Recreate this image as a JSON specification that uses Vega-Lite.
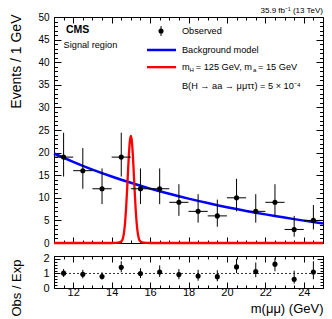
{
  "$schema": "https://vega.github.io/schema/vega-lite/v6.json",
  "background": "white",
  "padding": {"left": 8, "top": 6, "right": 5, "bottom": 0},
  "config": {
    "font": "Liberation Sans",
    "view": {"stroke": "black", "strokeWidth": 1},
    "axis": {"domain": false, "grid": false, "labelColor": "black", "titleColor": "black", "tickColor": "black", "titleFontWeight": "normal", "labelOverlap": false, "labelFlush": false, "labelBound": false, "tickWidth": 1},
    "concat": {"spacing": 0}
  },
  "datasets": {
    "obs": [
      {"x": 11.5, "xlo": 11, "xhi": 12, "y": 19, "lo": 14.7, "hi": 24.4, "r": 1.02, "rlo": 0.76, "rhi": 1.3},
      {"x": 12.5, "xlo": 12, "xhi": 13, "y": 16, "lo": 12.0, "hi": 21.0, "r": 0.94, "rlo": 0.66, "rhi": 1.25},
      {"x": 13.5, "xlo": 13, "xhi": 14, "y": 12, "lo": 8.6, "hi": 16.5, "r": 0.79, "rlo": 0.57, "rhi": 1.08},
      {"x": 14.5, "xlo": 14, "xhi": 15, "y": 19, "lo": 14.7, "hi": 24.4, "r": 1.42, "rlo": 1.08, "rhi": 1.84},
      {"x": 15.5, "xlo": 15, "xhi": 16, "y": 12, "lo": 8.6, "hi": 16.5, "r": 0.99, "rlo": 0.68, "rhi": 1.36},
      {"x": 16.5, "xlo": 16, "xhi": 17, "y": 12, "lo": 8.6, "hi": 16.5, "r": 1.1, "rlo": 0.76, "rhi": 1.55},
      {"x": 17.5, "xlo": 17, "xhi": 18, "y": 9, "lo": 6.0, "hi": 13.0, "r": 0.92, "rlo": 0.6, "rhi": 1.3},
      {"x": 18.5, "xlo": 18, "xhi": 19, "y": 7, "lo": 4.5, "hi": 10.8, "r": 0.83, "rlo": 0.5, "rhi": 1.25},
      {"x": 19.5, "xlo": 19, "xhi": 20, "y": 6, "lo": 3.6, "hi": 9.6, "r": 0.78, "rlo": 0.46, "rhi": 1.22},
      {"x": 20.5, "xlo": 20, "xhi": 21, "y": 10, "lo": 7.0, "hi": 14.2, "r": 1.45, "rlo": 1.03, "rhi": 2.0},
      {"x": 21.5, "xlo": 21, "xhi": 22, "y": 7, "lo": 4.5, "hi": 10.8, "r": 1.13, "rlo": 0.74, "rhi": 1.75},
      {"x": 22.5, "xlo": 22, "xhi": 23, "y": 9, "lo": 6.0, "hi": 13.0, "r": 1.64, "rlo": 1.15, "rhi": 2.05},
      {"x": 23.5, "xlo": 23, "xhi": 24, "y": 3, "lo": 1.4, "hi": 6.0, "r": 0.6, "rlo": 0.3, "rhi": 1.19},
      {"x": 24.5, "xlo": 24, "xhi": 25, "y": 5, "lo": 3.0, "hi": 8.4, "r": 1.1, "rlo": 0.6, "rhi": 1.84}
    ],
    "bkg": [
      {"x": 11, "y": 19.8}, {"x": 11.5, "y": 18.86}, {"x": 12, "y": 17.95}, {"x": 12.5, "y": 17.07},
      {"x": 13, "y": 16.25}, {"x": 13.5, "y": 15.47}, {"x": 14, "y": 14.72}, {"x": 14.5, "y": 14.0},
      {"x": 15, "y": 13.32}, {"x": 15.5, "y": 12.66}, {"x": 16, "y": 12.04}, {"x": 16.5, "y": 11.45},
      {"x": 17, "y": 10.88}, {"x": 17.5, "y": 10.34}, {"x": 18, "y": 9.82}, {"x": 18.5, "y": 9.32},
      {"x": 19, "y": 8.83}, {"x": 19.5, "y": 8.37}, {"x": 20, "y": 7.93}, {"x": 20.5, "y": 7.5},
      {"x": 21, "y": 7.09}, {"x": 21.5, "y": 6.7}, {"x": 22, "y": 6.33}, {"x": 22.5, "y": 5.97},
      {"x": 23, "y": 5.62}, {"x": 23.5, "y": 5.28}, {"x": 24, "y": 4.95}, {"x": 24.5, "y": 4.63},
      {"x": 25, "y": 4.32}
    ],
    "sig": [
      {"x": 11, "y": 0}, {"x": 14, "y": 0}, {"x": 14.2, "y": 0.02}, {"x": 14.4, "y": 0.12},
      {"x": 14.5, "y": 0.35}, {"x": 14.55, "y": 0.6}, {"x": 14.6, "y": 1.26}, {"x": 14.65, "y": 2.5},
      {"x": 14.7, "y": 4.54}, {"x": 14.75, "y": 7.52}, {"x": 14.8, "y": 11.37}, {"x": 14.85, "y": 15.68},
      {"x": 14.9, "y": 19.73}, {"x": 14.95, "y": 22.64}, {"x": 15.0, "y": 23.7}, {"x": 15.05, "y": 22.64},
      {"x": 15.1, "y": 19.73}, {"x": 15.15, "y": 15.68}, {"x": 15.2, "y": 11.37}, {"x": 15.25, "y": 7.52},
      {"x": 15.3, "y": 4.54}, {"x": 15.35, "y": 2.5}, {"x": 15.4, "y": 1.26}, {"x": 15.45, "y": 0.6},
      {"x": 15.5, "y": 0.35}, {"x": 15.6, "y": 0.12}, {"x": 15.8, "y": 0.02}, {"x": 16, "y": 0},
      {"x": 25, "y": 0}
    ]
  },
  "vconcat": [
    {
      "width": 269,
      "height": 226,
      "resolve": {"axis": {"x": "independent", "y": "independent"}},
      "layer": [
        {
          "data": {"name": "bkg"},
          "mark": {"type": "line", "color": "#0000ff", "strokeWidth": 2.5},
          "encoding": {
            "x": {"field": "x", "type": "quantitative", "scale": {"domain": [11, 25], "nice": false, "zero": false},
              "axis": {"orient": "bottom", "values": [11, 11.5, 12, 12.5, 13, 13.5, 14, 14.5, 15, 15.5, 16, 16.5, 17, 17.5, 18, 18.5, 19, 19.5, 20, 20.5, 21, 21.5, 22, 22.5, 23, 23.5, 24, 24.5, 25],
                "labels": false, "title": null,
                "tickSize": {"condition": {"test": "datum.value % 2 === 0", "value": -6}, "value": -3}}},
            "y": {"field": "y", "type": "quantitative", "scale": {"domain": [0, 50], "nice": false},
              "axis": {"orient": "left", "values": [0,1,2,3,4,5,6,7,8,9,10,11,12,13,14,15,16,17,18,19,20,21,22,23,24,25,26,27,28,29,30,31,32,33,34,35,36,37,38,39,40,41,42,43,44,45,46,47,48,49,50],
                "labelExpr": "datum.value % 5 === 0 ? format(datum.value, 'd') : ''",
                "tickSize": {"condition": {"test": "datum.value % 5 === 0", "value": -7}, "value": -3.5},
                "labelFontSize": 10, "labelPadding": 12,
                "title": "Events / 1 GeV", "titleFontSize": 14, "titleAngle": -90, "titleAlign": "right", "titleBaseline": "middle", "titleX": -38, "titleY": -3}}
          }
        },
        {
          "data": {"name": "sig"},
          "mark": {"type": "line", "color": "#ff0000", "strokeWidth": 2.3, "interpolate": "monotone"},
          "encoding": {
            "x": {"field": "x", "type": "quantitative",
              "axis": {"orient": "top", "values": [11, 11.5, 12, 12.5, 13, 13.5, 14, 14.5, 15, 15.5, 16, 16.5, 17, 17.5, 18, 18.5, 19, 19.5, 20, 20.5, 21, 21.5, 22, 22.5, 23, 23.5, 24, 24.5, 25],
                "labels": false, "title": null,
                "tickSize": {"condition": {"test": "datum.value % 2 === 0", "value": -6}, "value": -3}}},
            "y": {"field": "y", "type": "quantitative",
              "axis": {"orient": "right", "values": [0,1,2,3,4,5,6,7,8,9,10,11,12,13,14,15,16,17,18,19,20,21,22,23,24,25,26,27,28,29,30,31,32,33,34,35,36,37,38,39,40,41,42,43,44,45,46,47,48,49,50],
                "labels": false, "title": null,
                "tickSize": {"condition": {"test": "datum.value % 5 === 0", "value": -7}, "value": -3.5}}}
          }
        },
        {
          "data": {"name": "obs"},
          "mark": {"type": "rule", "color": "black", "strokeWidth": 1},
          "encoding": {
            "x": {"field": "xlo", "type": "quantitative", "axis": null},
            "x2": {"field": "xhi"},
            "y": {"field": "y", "type": "quantitative", "axis": null}
          }
        },
        {
          "data": {"name": "obs"},
          "mark": {"type": "rule", "color": "black", "strokeWidth": 1},
          "encoding": {
            "x": {"field": "x", "type": "quantitative", "axis": null},
            "y": {"field": "lo", "type": "quantitative", "axis": null},
            "y2": {"field": "hi"}
          }
        },
        {
          "data": {"name": "obs"},
          "mark": {"type": "circle", "color": "black", "opacity": 1, "size": 26},
          "encoding": {
            "x": {"field": "x", "type": "quantitative", "axis": null},
            "y": {"field": "y", "type": "quantitative", "axis": null}
          }
        },
        {
          "data": {"values": [{}]},
          "mark": {"type": "text", "text": "35.9 fb⁻¹ (13 TeV)", "fontSize": 8, "align": "right", "baseline": "middle", "color": "black"},
          "encoding": {"x": {"datum": 25, "axis": null}, "y": {"datum": 51.3, "axis": null}}
        },
        {
          "data": {"values": [{}]},
          "mark": {"type": "text", "text": "CMS", "fontSize": 10.5, "fontWeight": "bold", "align": "left", "baseline": "middle", "color": "black"},
          "encoding": {"x": {"datum": 11.62, "axis": null}, "y": {"datum": 47.2, "axis": null}}
        },
        {
          "data": {"values": [{}]},
          "mark": {"type": "text", "text": "Signal region", "fontSize": 9.2, "align": "left", "baseline": "middle", "color": "black"},
          "encoding": {"x": {"datum": 11.5, "axis": null}, "y": {"datum": 43.8, "axis": null}}
        },
        {
          "data": {"values": [{}]},
          "mark": {"type": "rule", "color": "black", "strokeWidth": 1},
          "encoding": {"x": {"datum": 16.57, "axis": null}, "y": {"datum": 45.8, "axis": null}, "y2": {"datum": 48.0}}
        },
        {
          "data": {"values": [{}]},
          "mark": {"type": "circle", "color": "black", "opacity": 1, "size": 26},
          "encoding": {"x": {"datum": 16.57, "axis": null}, "y": {"datum": 46.9, "axis": null}}
        },
        {
          "data": {"values": [{}]},
          "mark": {"type": "text", "text": "Observed", "fontSize": 9.2, "align": "left", "baseline": "middle", "color": "black"},
          "encoding": {"x": {"datum": 17.66, "axis": null}, "y": {"datum": 46.9, "axis": null}}
        },
        {
          "data": {"values": [{}]},
          "mark": {"type": "rule", "color": "#0000ff", "strokeWidth": 2.5},
          "encoding": {"x": {"datum": 15.84, "axis": null}, "x2": {"datum": 17.35}, "y": {"datum": 42.7, "axis": null}}
        },
        {
          "data": {"values": [{}]},
          "mark": {"type": "text", "text": "Background model", "fontSize": 9.2, "align": "left", "baseline": "middle", "color": "black"},
          "encoding": {"x": {"datum": 17.66, "axis": null}, "y": {"datum": 42.7, "axis": null}}
        },
        {
          "data": {"values": [{}]},
          "mark": {"type": "rule", "color": "#ff0000", "strokeWidth": 2.3},
          "encoding": {"x": {"datum": 15.84, "axis": null}, "x2": {"datum": 17.35}, "y": {"datum": 38.9, "axis": null}}
        },
        {
          "data": {"values": [{}]},
          "mark": {"type": "text", "text": "m", "fontSize": 9.2, "align": "left", "baseline": "middle", "color": "black"},
          "encoding": {"x": {"datum": 17.66, "axis": null}, "y": {"datum": 38.9, "axis": null}}
        },
        {
          "data": {"values": [{}]},
          "mark": {"type": "text", "text": "H", "fontSize": 6, "align": "left", "baseline": "middle", "color": "black"},
          "encoding": {"x": {"datum": 18.05, "axis": null}, "y": {"datum": 38.2, "axis": null}}
        },
        {
          "data": {"values": [{}]},
          "mark": {"type": "text", "text": "= 125 GeV, m", "fontSize": 9.2, "align": "left", "baseline": "middle", "color": "black"},
          "encoding": {"x": {"datum": 18.38, "axis": null}, "y": {"datum": 38.9, "axis": null}}
        },
        {
          "data": {"values": [{}]},
          "mark": {"type": "text", "text": "a", "fontSize": 6, "align": "left", "baseline": "middle", "color": "black"},
          "encoding": {"x": {"datum": 21.36, "axis": null}, "y": {"datum": 38.2, "axis": null}}
        },
        {
          "data": {"values": [{}]},
          "mark": {"type": "text", "text": "= 15 GeV", "fontSize": 9.2, "align": "left", "baseline": "middle", "color": "black"},
          "encoding": {"x": {"datum": 21.62, "axis": null}, "y": {"datum": 38.9, "axis": null}}
        },
        {
          "data": {"values": [{}]},
          "mark": {"type": "text", "text": "B(H → aa → μμττ) = 5 × 10⁻⁴", "fontSize": 9.2, "align": "left", "baseline": "middle", "color": "black"},
          "encoding": {"x": {"datum": 17.66, "axis": null}, "y": {"datum": 34.7, "axis": null}}
        }
      ]
    },
    {
      "width": 269,
      "height": 32,
      "resolve": {"axis": {"x": "independent", "y": "independent"}},
      "layer": [
        {
          "data": {"values": [{}]},
          "mark": {"type": "rule", "color": "black", "strokeWidth": 0.8, "strokeDash": [2, 2]},
          "encoding": {"y": {"datum": 1, "scale": {"domain": [0, 2.2], "nice": false}, "axis": null}}
        },
        {
          "data": {"name": "obs"},
          "mark": {"type": "rule", "color": "black", "strokeWidth": 1},
          "encoding": {
            "x": {"field": "x", "type": "quantitative", "scale": {"domain": [11, 25], "nice": false, "zero": false},
              "axis": {"orient": "top", "values": [11, 11.5, 12, 12.5, 13, 13.5, 14, 14.5, 15, 15.5, 16, 16.5, 17, 17.5, 18, 18.5, 19, 19.5, 20, 20.5, 21, 21.5, 22, 22.5, 23, 23.5, 24, 24.5, 25],
                "labels": false, "title": null,
                "tickSize": {"condition": {"test": "datum.value % 2 === 0", "value": -6}, "value": -3}}},
            "y": {"field": "rlo", "type": "quantitative",
              "axis": {"orient": "right", "values": [0, 0.2, 0.4, 0.6, 0.8, 1, 1.2, 1.4, 1.6, 1.8, 2, 2.2],
                "labels": false, "title": null,
                "tickSize": {"condition": {"test": "datum.value === 0 || datum.value === 1 || datum.value === 2", "value": -6}, "value": -3}}},
            "y2": {"field": "rhi"}
          }
        },
        {
          "data": {"name": "obs"},
          "mark": {"type": "circle", "color": "black", "opacity": 1, "size": 26},
          "encoding": {
            "x": {"field": "x", "type": "quantitative",
              "axis": {"orient": "bottom", "values": [11, 11.5, 12, 12.5, 13, 13.5, 14, 14.5, 15, 15.5, 16, 16.5, 17, 17.5, 18, 18.5, 19, 19.5, 20, 20.5, 21, 21.5, 22, 22.5, 23, 23.5, 24, 24.5, 25],
                "labelExpr": "datum.value % 2 === 0 ? format(datum.value, 'd') : ''",
                "labelFontSize": 11, "labelPadding": 4,
                "tickSize": {"condition": {"test": "datum.value % 2 === 0", "value": -6}, "value": -3},
                "title": "m(μμ) (GeV)", "titleFontSize": 13, "titleAnchor": "end", "titlePadding": 2}},
            "y": {"field": "r", "type": "quantitative",
              "axis": {"orient": "left", "values": [0, 0.2, 0.4, 0.6, 0.8, 1, 1.2, 1.4, 1.6, 1.8, 2, 2.2],
                "labelExpr": "datum.value === 0 || datum.value === 1 || datum.value === 2 ? format(datum.value, 'd') : ''",
                "tickSize": {"condition": {"test": "datum.value === 0 || datum.value === 1 || datum.value === 2", "value": -6}, "value": -3},
                "labelFontSize": 11, "labelPadding": 11,
                "title": "Obs / Exp", "titleFontSize": 13, "titleAngle": -90, "titleAlign": "right", "titleBaseline": "middle", "titleX": -38, "titleY": 3}}
          }
        }
      ]
    }
  ]
}
